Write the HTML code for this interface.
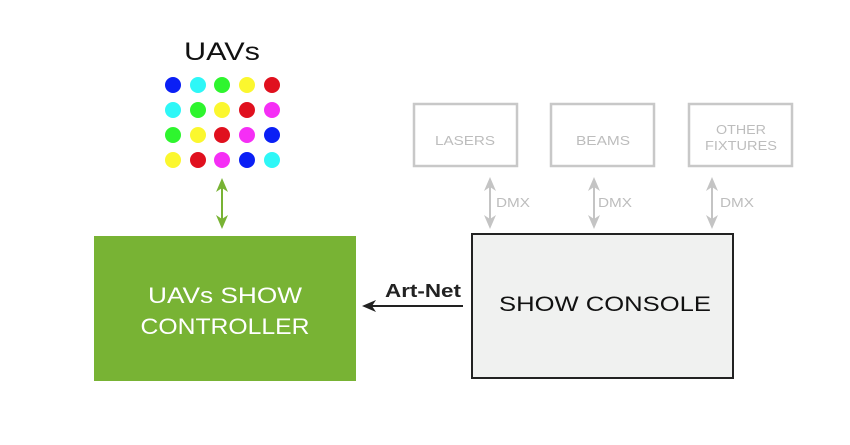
<!DOCTYPE html>
<html><head><meta charset="utf-8"><style>
html,body{margin:0;padding:0;background:#fff;width:850px;height:445px;overflow:hidden}
svg{display:block}
text{font-family:"Liberation Sans","DejaVu Sans",sans-serif}
</style></head><body>
<svg width="850" height="445" viewBox="0 0 850 445" xmlns="http://www.w3.org/2000/svg">
<defs>
<marker id="ga" markerWidth="14" markerHeight="12" refX="6" refY="6" orient="auto-start-reverse" markerUnits="userSpaceOnUse"><path d="M0,0 L14,6 L0,12 L4,6 Z" fill="#78b334"/></marker>
<marker id="gr" markerWidth="14" markerHeight="12" refX="6" refY="6" orient="auto-start-reverse" markerUnits="userSpaceOnUse"><path d="M0,0 L14,6 L0,12 L4,6 Z" fill="#c4c4c4"/></marker>
<marker id="bk" markerWidth="14" markerHeight="12" refX="6" refY="6" orient="auto-start-reverse" markerUnits="userSpaceOnUse"><path d="M0,0 L14,6 L0,12 L4,6 Z" fill="#222"/></marker>
</defs>
<text x="222" y="60" text-anchor="middle" font-size="25" fill="#111" textLength="76" lengthAdjust="spacingAndGlyphs">UAVs</text>
<g>
<circle cx="173" cy="85" r="8" fill="#0a1ff5"/><circle cx="198" cy="85" r="8" fill="#2ef7f7"/><circle cx="222" cy="85" r="8" fill="#2ef52e"/><circle cx="247" cy="85" r="8" fill="#fbf72e"/><circle cx="272" cy="85" r="8" fill="#e0101e"/>
<circle cx="173" cy="110" r="8" fill="#2ef7f7"/><circle cx="198" cy="110" r="8" fill="#2ef52e"/><circle cx="222" cy="110" r="8" fill="#fbf72e"/><circle cx="247" cy="110" r="8" fill="#e0101e"/><circle cx="272" cy="110" r="8" fill="#f52ef5"/>
<circle cx="173" cy="135" r="8" fill="#2ef52e"/><circle cx="198" cy="135" r="8" fill="#fbf72e"/><circle cx="222" cy="135" r="8" fill="#e0101e"/><circle cx="247" cy="135" r="8" fill="#f52ef5"/><circle cx="272" cy="135" r="8" fill="#0a1ff5"/>
<circle cx="173" cy="160" r="8" fill="#fbf72e"/><circle cx="198" cy="160" r="8" fill="#e0101e"/><circle cx="222" cy="160" r="8" fill="#f52ef5"/><circle cx="247" cy="160" r="8" fill="#0a1ff5"/><circle cx="272" cy="160" r="8" fill="#2ef7f7"/>
</g>
<line x1="222" y1="186" x2="222" y2="221" stroke="#78b334" stroke-width="2" marker-start="url(#ga)" marker-end="url(#ga)"/>
<rect x="94" y="236" width="262" height="145" fill="#78b334"/>
<text x="225" y="303" text-anchor="middle" font-size="22" fill="#fff" textLength="154" lengthAdjust="spacingAndGlyphs">UAVs SHOW</text>
<text x="225" y="334" text-anchor="middle" font-size="22" fill="#fff" textLength="169" lengthAdjust="spacingAndGlyphs">CONTROLLER</text>
<g fill="none" stroke="#c8c8c8" stroke-width="2.5">
<rect x="414" y="104" width="103" height="62"/>
<rect x="551" y="104" width="103" height="62"/>
<rect x="689" y="104" width="103" height="62"/>
</g>
<g fill="#bdbdbd" font-size="13">
<text x="465" y="145" text-anchor="middle" textLength="60" lengthAdjust="spacingAndGlyphs">LASERS</text>
<text x="603" y="145" text-anchor="middle" textLength="54" lengthAdjust="spacingAndGlyphs">BEAMS</text>
<text x="741" y="134" text-anchor="middle" textLength="50" lengthAdjust="spacingAndGlyphs">OTHER</text>
<text x="741" y="150" text-anchor="middle" textLength="72" lengthAdjust="spacingAndGlyphs">FIXTURES</text>
<text x="496" y="207" textLength="34" lengthAdjust="spacingAndGlyphs">DMX</text>
<text x="598" y="207" textLength="34" lengthAdjust="spacingAndGlyphs">DMX</text>
<text x="720" y="207" textLength="34" lengthAdjust="spacingAndGlyphs">DMX</text>
</g>
<g stroke="#c4c4c4" stroke-width="2">
<line x1="490" y1="185" x2="490" y2="221" marker-start="url(#gr)" marker-end="url(#gr)"/>
<line x1="594" y1="185" x2="594" y2="221" marker-start="url(#gr)" marker-end="url(#gr)"/>
<line x1="712" y1="185" x2="712" y2="221" marker-start="url(#gr)" marker-end="url(#gr)"/>
</g>
<rect x="472" y="234" width="261" height="144" fill="#f0f1f0" stroke="#222" stroke-width="2"/>
<text x="605" y="311" text-anchor="middle" font-size="21" fill="#111" textLength="212" lengthAdjust="spacingAndGlyphs">SHOW CONSOLE</text>
<line x1="463" y1="306" x2="370" y2="306" stroke="#222" stroke-width="2" marker-end="url(#bk)"/>
<text x="423" y="297" text-anchor="middle" font-size="18" font-weight="bold" fill="#222" textLength="76" lengthAdjust="spacingAndGlyphs">Art-Net</text>
</svg>
</body></html>
